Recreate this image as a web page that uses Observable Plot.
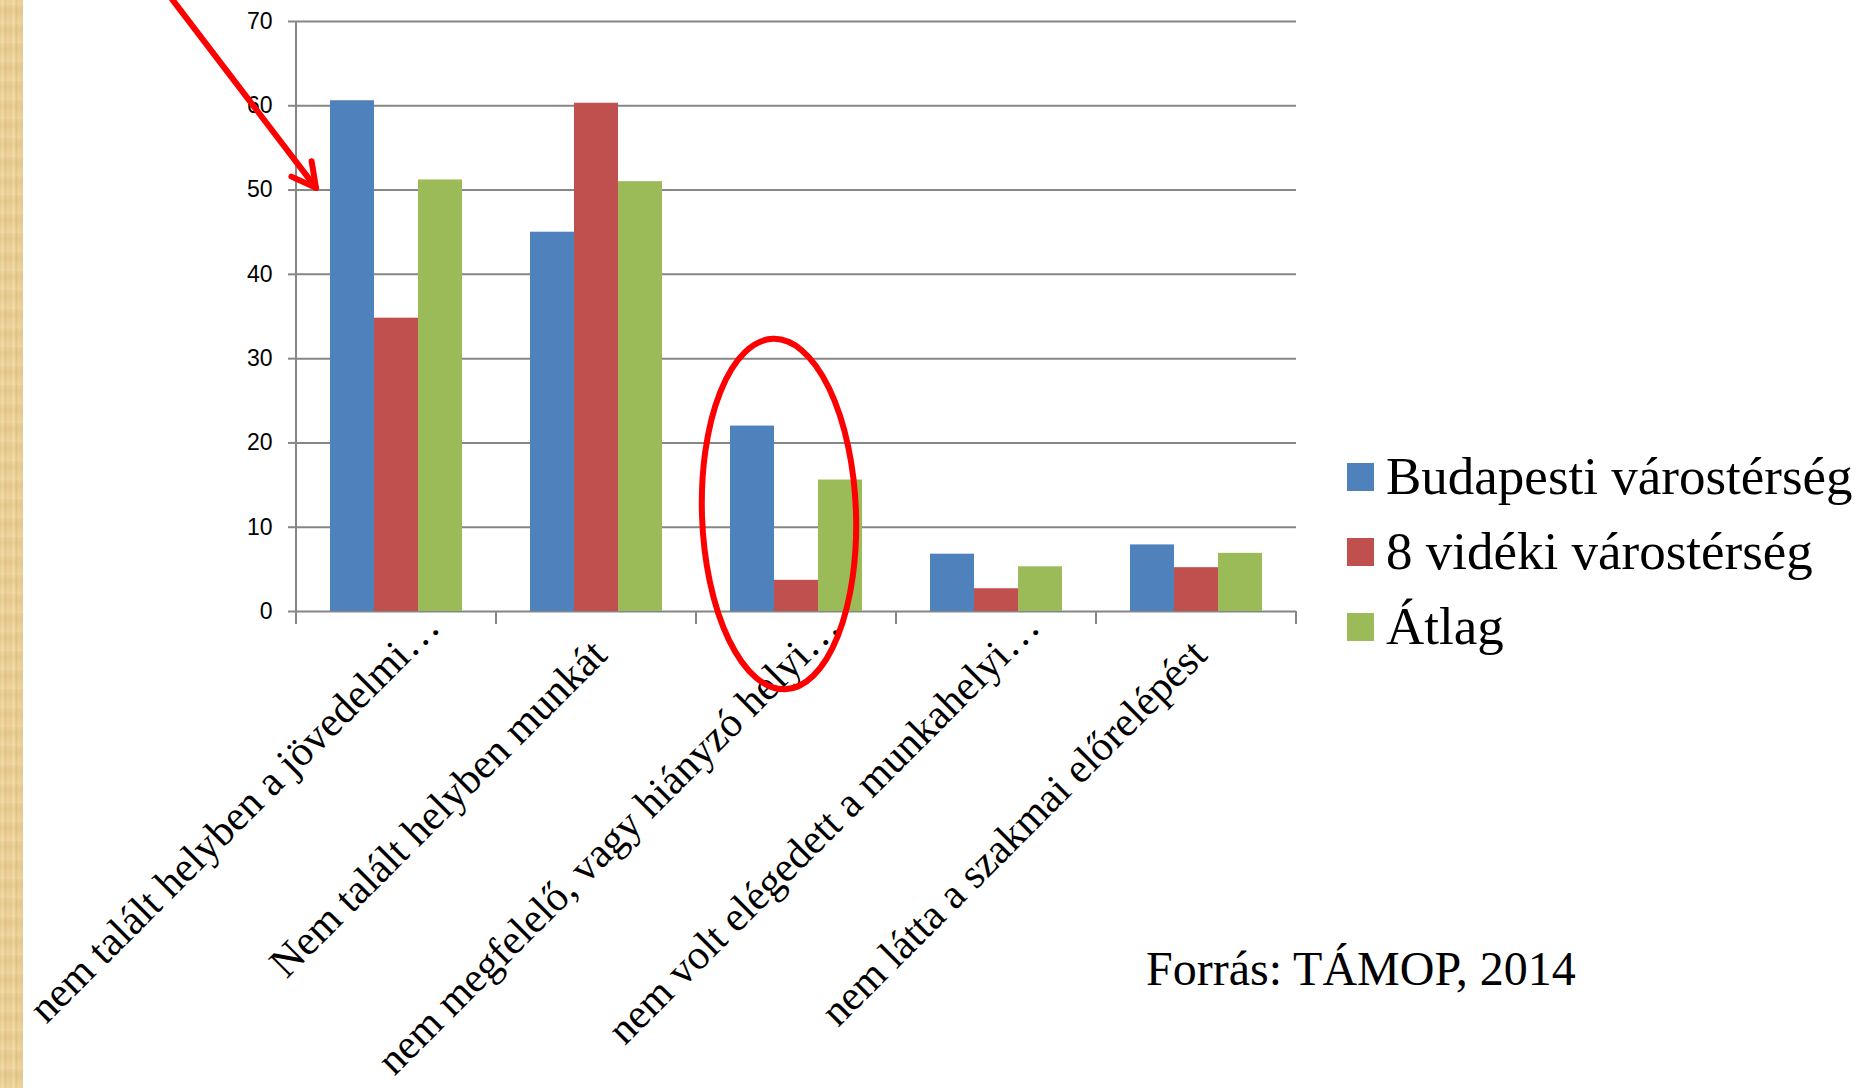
<!DOCTYPE html>
<html>
<head>
<meta charset="utf-8">
<script src="https://cdn.jsdelivr.net/npm/d3@7"></script>
<script src="https://cdn.jsdelivr.net/npm/@observablehq/plot@0.6"></script>
<style>
  html, body { margin: 0; padding: 0; background: #fff; }
  #wrap { position: relative; width: 1863px; height: 1088px; overflow: hidden; background: #fff; }
  #strip { position: absolute; left: 0; top: 0; width: 23px; height: 1088px;
    background:
      repeating-linear-gradient(0deg, rgba(255,255,255,0.10) 0px, rgba(255,255,255,0) 7px, rgba(160,120,50,0.08) 13px, rgba(255,255,255,0) 19px),
      repeating-linear-gradient(90deg, #e8cb8e 0px, #f1dba8 3px, #e3c383 5px, #eed39c 8px, #e6c98c 11px); }
  #chart { position: absolute; left: 0; top: 0; }
  #legend { position: absolute; left: 1347px; top: 439px; font-family: "Liberation Serif", "Times New Roman", serif; font-size: 53px; color: #000; }
  #legend .row { display: flex; align-items: center; height: 75px; line-height: 75px; white-space: nowrap; }
  #legend .sw { width: 27px; height: 28px; margin-right: 12px; flex: none; }
  #caption { position: absolute; left: 1146px; top: 945px; font-family: "Liberation Serif", "Times New Roman", serif; font-size: 48px; line-height: 48px; white-space: nowrap; color: #000; }
</style>
</head>
<body>
<div id="wrap">
  <div id="strip"></div>
  <div id="chart"></div>
  <div id="legend"></div>
  <div id="caption"></div>
</div>
<script>
// ---- data ----
const categories = [
  "nem talált helyben a jövedelmi…",
  "Nem talált helyben munkát",
  "nem megfelelő, vagy hiányzó helyi…",
  "nem volt elégedett a munkahelyi…",
  "nem látta a szakmai előrelépést"
];
const seriesNames = ["Budapesti várostérség", "8 vidéki várostérség", "Átlag"];
const budapest = [60.6, 45.0, 22.0, 6.8, 7.9];
const videki   = [34.8, 60.3, 3.7, 2.7, 5.2];
const atlag    = [51.2, 51.0, 15.6, 5.3, 6.9];
const yTicks = [0, 10, 20, 30, 40, 50, 60, 70];
const colors = ["#4f81bd", "#c0504d", "#9bbb59"];
const captionText = "Forrás: TÁMOP, 2014";

// annotations (in data terms: category + fraction of band, value)
const ellipseCategory = categories[2];
const ellipseValues = [-9.3, 32.3];
const ellipseBand = [0.03, 0.80];
const arrowCategory = categories[0];
const arrowTip = {band: 0.10, value: 50.2};
const arrowTail = {band: -0.62, value: 72.6};

const seriesValues = [budapest, videki, atlag];
const data = categories.flatMap((c, i) =>
  seriesNames.map((s, k) => ({category: c, series: s, value: seriesValues[k][i]})));

const gridColor = "#868686";
// Excel places truncated (…) labels slightly differently from full labels
const isTruncated = c => c.endsWith("…");
const labelStyle = {anchor: "bottom", tickRotate: -45, tickSize: 0, tickPadding: 0,
  fontSize: 42, fontFamily: "'Liberation Serif', 'Times New Roman', serif", fill: "#000", label: null};

const chart = Plot.plot({
  width: 1863,
  height: 1088,
  marginLeft: 295,
  marginRight: 566,
  marginTop: 21,
  marginBottom: 477,
  style: {fontFamily: "'Liberation Sans', Arial, sans-serif", fontSize: "23px", background: "transparent", overflow: "visible"},
  fx: {domain: categories, padding: 0, label: null},
  x: {domain: seriesNames, paddingInner: 0, paddingOuter: 0.75, axis: null},
  y: {domain: [0, 70], label: null},
  color: {domain: seriesNames, range: colors},
  marks: [
    Plot.gridY(yTicks, {stroke: gridColor, strokeOpacity: 1, strokeWidth: 2}),
    Plot.barY(data, {fx: "category", x: "series", y: "value", fill: "series"}),
    Plot.axisY(yTicks, {tickSize: 8, tickPadding: 16, stroke: gridColor, strokeWidth: 2, fill: "#000", fontSize: 23, label: null}),
    Plot.axisFx({...labelStyle, dx: 36, dy: 8, tickFormat: c => isTruncated(c) ? c : ""}),
    Plot.axisFx({...labelStyle, dx: 3, dy: 36, tickFormat: c => isTruncated(c) ? "" : c})
  ]
});
document.getElementById("chart").appendChild(chart);

// ---- axis lines & category boundary ticks, from the scales ----
const svgEl = chart.tagName.toLowerCase() === "svg" ? chart : chart.querySelector("svg");
const svg = d3.select(svgEl);
const fx = chart.scale("fx");
const y = chart.scale("y");
const y0 = y.apply(0);
const yTop = y.apply(70);
const bw = fx.bandwidth;
const edges = categories.map(c => fx.apply(c)).concat([fx.apply(categories[categories.length - 1]) + bw]);
const axisG = svg.append("g").attr("stroke", gridColor).attr("stroke-width", 2);
axisG.selectAll("line.edge").data(edges).join("line").attr("class", "edge")
  .attr("x1", d => d).attr("x2", d => d).attr("y1", y0).attr("y2", y0 + 13);
axisG.append("line").attr("x1", edges[0]).attr("x2", edges[0]).attr("y1", yTop).attr("y2", y0);

// ---- red annotations ----
const annG = svg.append("g").attr("fill", "none").attr("stroke", "#ff0000").attr("stroke-width", 6).attr("stroke-linecap", "round").attr("stroke-linejoin", "round");
const ex0 = fx.apply(ellipseCategory) + ellipseBand[0] * bw;
const ex1 = fx.apply(ellipseCategory) + ellipseBand[1] * bw;
const ey0 = y.apply(ellipseValues[1]);
const ey1 = y.apply(ellipseValues[0]);
annG.append("ellipse")
  .attr("cx", (ex0 + ex1) / 2).attr("cy", (ey0 + ey1) / 2)
  .attr("rx", (ex1 - ex0) / 2).attr("ry", (ey1 - ey0) / 2)
  .attr("transform", `rotate(-2 ${(ex0 + ex1) / 2} ${(ey0 + ey1) / 2})`);
const tx = fx.apply(arrowCategory) + arrowTip.band * bw, ty = y.apply(arrowTip.value);
const sx = fx.apply(arrowCategory) + arrowTail.band * bw, sy = y.apply(arrowTail.value);
const ang = Math.atan2(sy - ty, sx - tx);
const wing = 27, spread = 28 * Math.PI / 180;
annG.append("line").attr("x1", sx).attr("y1", sy).attr("x2", tx).attr("y2", ty);
annG.append("path").attr("d",
  `M${tx + wing * Math.cos(ang - spread)},${ty + wing * Math.sin(ang - spread)}L${tx},${ty}L${tx + wing * Math.cos(ang + spread)},${ty + wing * Math.sin(ang + spread)}`);

// ---- legend & caption ----
const legend = d3.select("#legend");
seriesNames.forEach((s, k) => {
  const row = legend.append("div").attr("class", "row");
  row.append("div").attr("class", "sw").style("background", colors[k]);
  row.append("span").text(s);
});
document.getElementById("caption").textContent = captionText;
</script>
</body>
</html>
